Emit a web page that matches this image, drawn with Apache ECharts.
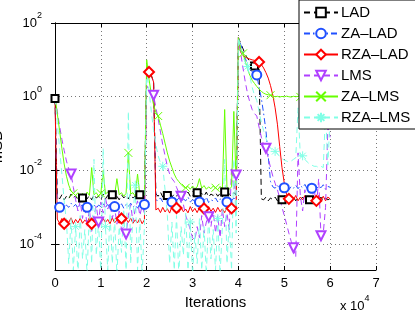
<!DOCTYPE html>
<html><head><meta charset="utf-8">
<script src="https://cdn.jsdelivr.net/npm/echarts@6/dist/echarts.min.js"></script>
<style>html,body{margin:0;padding:0;background:#fff}#c{width:415px;height:312px}</style>
</head><body><div id="c"></div>
<script>
// sample grid (iterations), one sample every 500 iterations, 0..60000
const iterations = Array.from({length: 121}, (_, i) => i * 500);
const xTicks = [0, 10000, 20000, 30000, 40000, 50000, 60000, 70000];
const yTicks = [1e-4, 1e-2, 1, 100];

const names = ['LAD', 'ZA–LAD', 'RZA–LAD', 'LMS', 'ZA–LMS', 'RZA–LMS'];

const ladMSD = [0.9,
 2.1e-3,1.7e-3,2.2e-3,1.6e-3,2.0e-3,1.7e-3,2.3e-3,1.8e-3,2.1e-3,1.6e-3,2.2e-3,1.8e-3,2.0e-3,1.7e-3,2.1e-3,1.6e-3,2.2e-3,1.8e-3,2.0e-3,1.6e-3,
 2.3e-3,1.7e-3,2.1e-3,1.8e-3,2.2e-3,1.7e-3,2.0e-3,1.6e-3,2.2e-3,1.8e-3,2.1e-3,1.7e-3,2.3e-3,1.8e-3,2.0e-3,1.6e-3,2.2e-3,1.8e-3,2.0e-3,
 5,4.5,3.8,2.5,2.3e-3,
 2.0e-3,2.6e-3,1.9e-3,2.4e-3,2.1e-3,2.7e-3,1.9e-3,2.3e-3,2.0e-3,2.5e-3,1.9e-3,2.4e-3,2.1e-3,2.6e-3,2.0e-3,2.3e-3,1.9e-3,2.5e-3,
 2.1e-3,2.4e-3,2.0e-3,2.6e-3,1.9e-3,2.3e-3,2.1e-3,2.5e-3,2.0e-3,2.4e-3,1.9e-3,2.6e-3,2.1e-3,2.3e-3,2.0e-3,2.5e-3,2.2e-3,
 40,28,20,14,11,9,7.5,6.8,6.5,6.0,1.7e-3,
 1.6e-3,1.9e-3,1.5e-3,1.8e-3,1.6e-3,1.9e-3,1.5e-3,1.8e-3,1.6e-3,1.9e-3,1.5e-3,1.7e-3,1.6e-3,1.9e-3,1.5e-3,
 1.8e-3,1.6e-3,1.9e-3,1.5e-3,1.8e-3,1.6e-3,1.9e-3,1.5e-3,1.8e-3,1.6e-3,1.9e-3,1.5e-3,1.8e-3,1.6e-3,1.7e-3];

const zaLadMSD = [0.9,
 1.2e-3,1.0e-3,1.25e-3,0.95e-3,1.15e-3,1.0e-3,1.3e-3,1.05e-3,1.2e-3,0.95e-3,1.25e-3,1.05e-3,1.15e-3,1.0e-3,1.3e-3,1.0e-3,1.2e-3,0.95e-3,1.15e-3,1.05e-3,
 1.25e-3,1.0e-3,1.2e-3,0.95e-3,1.3e-3,1.05e-3,1.15e-3,1.0e-3,1.25e-3,0.95e-3,1.2e-3,1.05e-3,1.3e-3,1.0e-3,1.15e-3,0.95e-3,1.25e-3,1.05e-3,1.2e-3,
 5,4.5,3.8,2.5,1.6e-3,
 1.5e-3,1.8e-3,1.4e-3,1.7e-3,1.5e-3,1.9e-3,1.4e-3,1.6e-3,1.5e-3,1.8e-3,1.35e-3,1.7e-3,1.5e-3,1.9e-3,1.4e-3,1.6e-3,1.5e-3,1.8e-3,
 1.4e-3,1.7e-3,1.5e-3,1.9e-3,1.35e-3,1.6e-3,1.5e-3,1.8e-3,1.4e-3,1.7e-3,1.5e-3,1.9e-3,1.4e-3,1.6e-3,1.5e-3,1.8e-3,1.6e-3,
 40,26,17,11,7.5,5.5,4.8,4.2,3.9,1.8,0.9,0.35,0.12,0.025,5e-3,3.6e-3,
 3.3e-3,4.0e-3,3.1e-3,3.8e-3,3.4e-3,4.1e-3,3.0e-3,3.7e-3,3.3e-3,4.0e-3,3.2e-3,3.9e-3,3.4e-3,4.2e-3,3.1e-3,
 3.7e-3,3.3e-3,4.0e-3,3.2e-3,3.8e-3,3.4e-3,4.1e-3,3.1e-3,3.7e-3,3.5e-3];

const rzaLadMSD = [0.8,
 4.8e-4,3.7e-4,5.0e-4,3.6e-4,4.6e-4,3.9e-4,5.2e-4,3.6e-4,4.7e-4,3.8e-4,5.1e-4,3.7e-4,4.5e-4,3.9e-4,5.3e-4,3.6e-4,4.8e-4,3.8e-4,4.6e-4,3.7e-4,
 5.0e-4,3.9e-4,4.7e-4,3.6e-4,5.2e-4,3.8e-4,4.5e-4,3.7e-4,5.0e-4,3.6e-4,4.8e-4,3.9e-4,5.1e-4,3.7e-4,4.6e-4,3.8e-4,5.0e-4,3.6e-4,4.6e-4,
 5,4.7,3.8,2.5,8.5e-4,
 9.5e-4,7.2e-4,1.0e-3,7.5e-4,9.2e-4,7.0e-4,1.05e-3,7.8e-4,9.6e-4,7.3e-4,1.0e-3,7.6e-4,9.0e-4,7.1e-4,1.05e-3,7.7e-4,9.4e-4,7.2e-4,
 1.0e-3,7.5e-4,9.3e-4,7.0e-4,1.05e-3,7.8e-4,9.5e-4,7.3e-4,1.0e-3,7.6e-4,9.1e-4,7.2e-4,1.05e-3,7.7e-4,9.4e-4,7.4e-4,9.0e-4,
 40,16,13,12,11,10.5,10,9.7,9.3,8.8,7.5,6,4.5,3.2,2,1.1,0.5,0.18,0.045,0.012,4.5e-3,2.2e-3,1.7e-3,
 2.0e-3,1.6e-3,2.1e-3,1.5e-3,1.9e-3,1.6e-3,2.1e-3,1.5e-3,2.0e-3,1.6e-3,1.9e-3,1.5e-3,2.1e-3,1.6e-3,2.0e-3,1.5e-3,1.9e-3,1.7e-3];

const lmsMSD = [0.9,
 0.4,0.16,0.07,0.035,0.018,0.011,8e-3,3.5e-3,1.6e-3,
 8e-4,1.5e-3,5e-4,1.2e-3,3e-4,9e-4,2.2e-4,6e-4,1.1e-3,4e-4,1.4e-3,7e-4,1.8e-3,9e-4,1.3e-3,5e-4,1.0e-3,3.5e-4,8e-4,2.5e-4,
 3e-4,1.9e-4,6e-4,1.2e-3,4e-4,9e-4,1.5e-3,6e-4,1.1e-3,7e-4,
 2,1.5,1.2,1.1,0.5,0.25,0.11,0.05,0.025,0.013,8e-3,6e-3,5e-3,3.5e-3,2.5e-3,2e-3,1.2e-3,6e-4,4e-4,2.5e-4,
 1.5e-4,1.3e-4,3e-4,1.5e-4,6e-4,2e-4,4e-4,5.6e-4,3e-4,8e-4,2e-4,6e-4,1.5e-4,9e-4,3e-4,7e-4,2.5e-4,1.2e-2,3e-3,7.6e-3,
 40,15,6,2.5,1.2,0.7,0.45,0.35,0.3,0.15,0.08,0.05,0.04,0.022,0.012,7e-3,4.5e-3,3e-3,1.8e-3,1e-3,
 6e-4,3.5e-4,2e-4,1.2e-4,8e-5,4.5e-5,3e-2,2e-3,8e-4,3e-3,1.2e-3,4e-3,1.5e-3,3.5e-3,1e-3,6e-3,1.7e-4,2e-4,1e-3,0.15,0.08];

const zaLmsMSD = [1.0,
 0.35,0.12,0.04,0.015,7e-3,4e-3,2.8e-3,2.4e-3,
 2.1e-3,2.5e-3,2.0e-3,2.4e-3,1.9e-3,2.6e-3,2.1e-3,1.2e-2,2.2e-3,2.5e-3,2.0e-3,2.4e-3,1e-2,2.3e-3,2.6e-3,2.0e-3,
 2.4e-3,2.1e-3,6e-3,2.2e-3,2.5e-3,2.0e-3,2.4e-3,0.03,2.3e-3,2.5e-3,2.0e-3,8e-3,2.2e-3,2.6e-3,2.1e-3,
 10,3,1.2,0.6,0.38,0.3,0.17,0.1,0.055,0.03,0.018,0.012,8e-3,6e-3,5e-3,4.2e-3,3.6e-3,3.4e-3,
 3.7e-3,3.1e-3,3.8e-3,3.2e-3,3.6e-3,6e-3,3.3e-3,3.9e-3,3.1e-3,3.6e-3,3.2e-3,3.8e-3,3.4e-3,3.0e-3,3.7e-3,3.2e-3,0.45,3.5e-3,3.1e-3,3.6e-3,0.4,4.5e-3,
 40,20,15,9,5.5,3.8,2.8,2.3,1.9,1.6,1.4,1.25,1.17,1.13,1.1,
 1.05,1.0,1.03,0.98,1.02,0.99,1.04,1.0,0.98,1.03,1.0,1.02,0.99,1.01,1.0,0.98,1.03,1.0,1.02,0.99,1.01,1.0,1.03,0.99,1.01,1.0];

const rzaLmsMSD = [0.9,
 0.2,0.04,8e-3,1.5e-3,4e-4,
 3e-5,5e-4,2e-5,3e-4,1.5e-5,6e-4,4e-5,2.5e-4,1.5e-5,8e-4,3e-5,2e-2,5e-5,4e-4,1.5e-5,4e-2,3e-4,2e-5,7e-4,3e-5,
 5e-4,1.5e-5,3e-4,6e-5,9e-4,2e-5,0.4,3e-5,6e-4,4e-3,2e-5,5e-4,1.5e-5,3e-4,
 5,1.5,0.4,0.12,0.05,0.025,0.016,0.013,3e-3,6e-4,
 3e-5,4e-4,2e-5,6e-4,1.5e-5,3e-4,5e-5,7e-4,2e-5,4e-4,1.5e-5,2e-4,3e-5,5e-4,2e-5,3e-4,1.5e-5,6e-4,4e-5,2.5e-4,
 2e-5,5e-4,1.5e-5,3e-4,2e-2,3e-5,4e-4,2e-5,0.02,2e-4,
 40,20,12,8.5,6.6,3.5,1.8,1.1,0.8,0.4,0.2,0.12,0.075,0.05,0.04,0.036,0.033,0.028,0.024,0.021,
 0.019,0.018,0.017,0.018,0.02,0.022,0.5,0.024,0.025,0.02,0.017,0.015,0.014,0.013,0.013,0.012,0.013,0.012,0.4,0.014,0.3];

// iterations where each curve carries a marker
const ladMarks    = [0, 6000, 12500, 18500, 24500, 31000, 37000, 43500, 49500, 55500];
const zaLadMarks  = [1000, 7000, 13000, 19500, 25500, 31500, 37500, 44000, 50000, 56000];
const rzaLadMarks = [2000, 8000, 14500, 20500, 26500, 32500, 38500, 44500, 51000, 57000];
const lmsMarks    = [3500, 9500, 15500, 21500, 27500, 33500, 39500, 46000, 52000, 58000];
const zaLmsMarks  = [4000, 10000, 16000, 22500, 28500, 35000, 41000, 47000, 53500, 59500];
const rzaLmsMarks = [4500, 11000, 17500, 23500, 29500, 35500, 42000, 48000, 54000, 60000];

const FONT = 'Liberation Sans, Arial, Helvetica, sans-serif';
const colors = ['#000000', '#2050ff', '#ff0000', '#b040ff', '#66ff00', '#80ffe6'];
const dashes = [[6, 4], [6, 3, 1.5, 3], 'solid', [6, 4], 'solid', [6, 4]];
const symbols = ['emptyRect', 'emptyCircle', 'emptyDiamond', 'emptyTriangle',
  'path://M0,0L10,10M10,0L0,10',
  'path://M5,0L5,10M0,5L10,5M1.5,1.5L8.5,8.5M8.5,1.5L1.5,8.5'];
const symSizes = [7, 9, 10, 9, 8, 9];
const rotations = [0, 0, 0, 180, 0, 0];
const allValues = [ladMSD, zaLadMSD, rzaLadMSD, lmsMSD, zaLmsMSD, rzaLmsMSD];
const allMarks = [ladMarks, zaLadMarks, rzaLadMarks, lmsMarks, zaLmsMarks, rzaLmsMarks];

function build(vals, marks) {
  return vals.map((v, i) => {
    const x = iterations[i];
    return marks.indexOf(x) >= 0 ? {value: [x, v]} : {value: [x, v], symbol: 'none'};
  });
}

const series = names.map((n, k) => ({
  type: 'line', name: n, xAxisIndex: 0, yAxisIndex: 0,
  data: build(allValues[k], allMarks[k]),
  symbol: symbols[k], symbolSize: symSizes[k], symbolRotate: rotations[k],
  showSymbol: true, showAllSymbol: true, clip: true,
  lineStyle: {color: colors[k], width: 1, type: dashes[k]},
  itemStyle: {color: colors[k], borderColor: colors[k], borderWidth: 1},
  emphasis: {disabled: true}, silent: true, animation: false
}));

const supRich = {
  b: {fontSize: 13, fontFamily: FONT, color: '#000'},
  e: {fontSize: 9, fontFamily: FONT, color: '#000', padding: [0, 0, 15, 0]}
};

const chart = echarts.init(document.getElementById('c'), null, {renderer: 'canvas'});
chart.setOption({
  animation: false,
  backgroundColor: '#fff',
  grid: {left: 55, top: 23, right: 39, bottom: 42, containLabel: false, outerBoundsMode: 'none'},
  legend: {
    orient: 'vertical', left: 299, top: 0,
    data: names,
    backgroundColor: '#fff', borderColor: '#000', borderWidth: 1, borderRadius: 0,
    padding: [5, 6, 4, 4], itemWidth: 34, itemHeight: 12, itemGap: 6,
    textStyle: {fontSize: 15, color: '#000', fontFamily: FONT, padding: [0, 0, 0, -2]},
    selectedMode: false
  },
  xAxis: [{
    type: 'value', position: 'bottom', min: 0, max: 70000, interval: 10000,
    axisLine: {show: true, lineStyle: {color: '#000', width: 1}},
    axisTick: {show: true, inside: true, length: 4, lineStyle: {color: '#000'}},
    axisLabel: {formatter: v => String(v / 10000), color: '#000', fontSize: 13, fontFamily: FONT, margin: 7},
    splitLine: {show: true, lineStyle: {color: '#777', type: [1, 3], width: 1}},
    name: 'Iterations', nameLocation: 'middle', nameGap: 22,
    nameTextStyle: {fontSize: 15, color: '#000', fontFamily: FONT}
  }, {
    type: 'value', position: 'top', min: 0, max: 70000, interval: 10000,
    axisLine: {show: true, lineStyle: {color: '#000', width: 1}},
    axisTick: {show: true, inside: true, length: 4, lineStyle: {color: '#000'}},
    axisLabel: {show: false}, splitLine: {show: false}
  }],
  yAxis: [{
    type: 'log', logBase: 10, min: 2e-5, max: 100,
    axisLine: {show: true, lineStyle: {color: '#000', width: 1}},
    axisTick: {show: true, inside: true, length: 4, lineStyle: {color: '#000'}, customValues: yTicks},
    axisLabel: {
      customValues: yTicks, margin: 13,
      formatter: v => '{b|10}{e|' + Math.round(Math.log10(v)) + '}',
      rich: supRich
    },
    minorTick: {show: false},
    splitLine: {show: true, lineStyle: {color: '#777', type: [1, 3], width: 1}},
    name: 'MSD', nameLocation: 'middle', nameGap: 50,
    nameTextStyle: {fontSize: 15, color: '#000', fontFamily: FONT}
  }, {
    type: 'log', logBase: 10, min: 2e-5, max: 100, position: 'right',
    axisLine: {show: true, lineStyle: {color: '#000', width: 1}},
    axisTick: {show: true, inside: true, length: 4, lineStyle: {color: '#000'}, customValues: yTicks},
    axisLabel: {show: false}, splitLine: {show: false}
  }],
  graphic: [{
    type: 'text', left: 340, top: 294, silent: true,
    style: {
      text: '{b|x 10}{e|4}',
      rich: {
        b: {fontSize: 13, fontFamily: FONT, color: '#000'},
        e: {fontSize: 9, fontFamily: FONT, color: '#000', padding: [0, 0, 15, 0]}
      }
    }
  }],
  series: series
});
</script></body></html>
